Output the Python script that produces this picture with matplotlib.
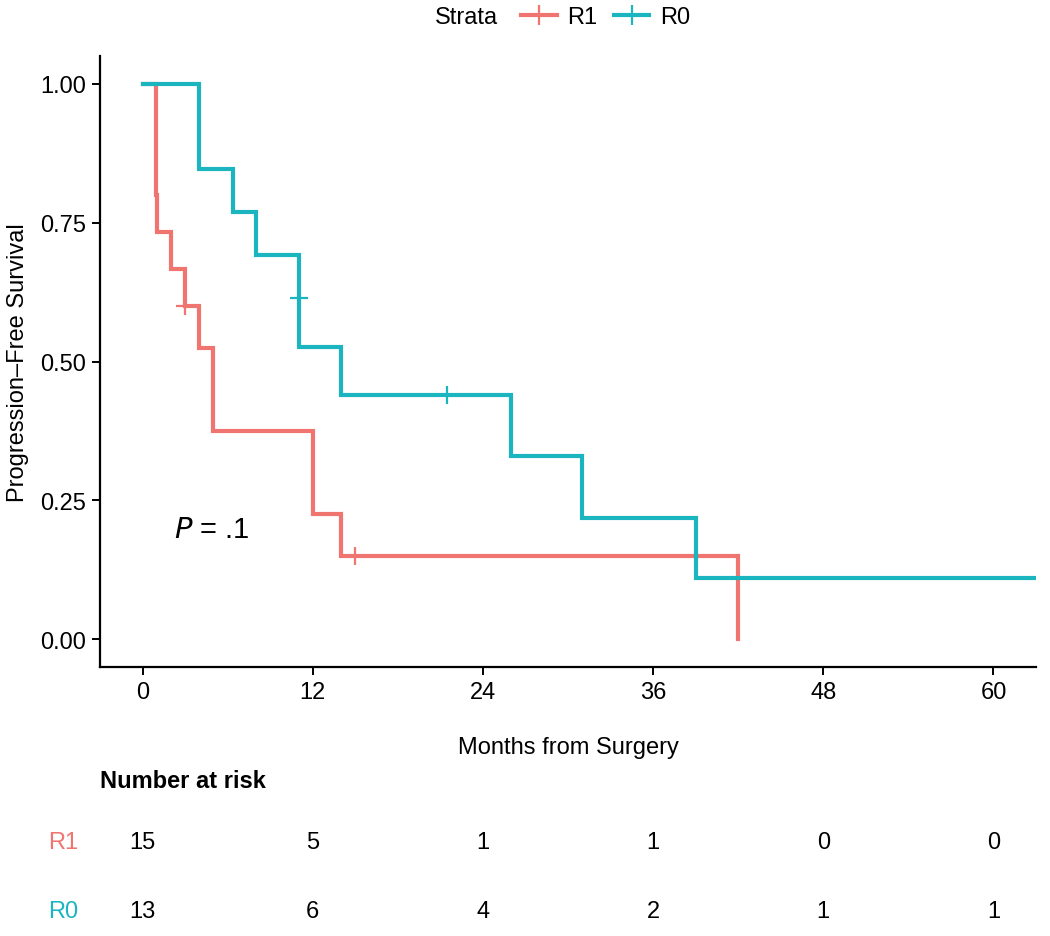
import matplotlib
matplotlib.use("Agg")
import matplotlib.pyplot as plt
from matplotlib.lines import Line2D

plt.rcParams['font.family'] = ['Liberation Sans', 'DejaVu Sans']

RED = "#F07470"
TEAL = "#1BB5C0"
FS = 17

# Kaplan-Meier steps (months, survival)
r1_times = [0, 0.93, 1.0, 2.0, 3.0, 4.0, 5.0, 12.0, 14.0, 42.0]
r1_surv = [1.0, 0.80, 0.733, 0.667, 0.60, 0.525, 0.375, 0.225, 0.15, 0.0]
r1_cens_t = [3.0, 15.0]
r1_cens_s = [0.60, 0.15]

r0_times = [0, 4.0, 6.4, 8.0, 11.0, 11.05, 14.0, 26.0, 31.0, 39.0, 70.0]
r0_surv = [1.0, 0.846, 0.769, 0.692, 0.615, 0.527, 0.439, 0.329, 0.219, 0.110, 0.110]
r0_cens_t = [11.0, 21.5]
r0_cens_s = [0.615, 0.439]

# number at risk table
risk_times = [0, 12, 24, 36, 48, 60]
risk_r1 = [15, 5, 1, 1, 0, 0]
risk_r0 = [13, 6, 4, 2, 1, 1]

fig = plt.figure(figsize=(10.5, 9.37), dpi=100)
ax = fig.add_axes([100/1050, 1-668/937, 936/1050, 611/937])

ax.step(r1_times, r1_surv, where="post", color=RED, lw=3.0, solid_joinstyle="miter")
ax.step(r0_times, r0_surv, where="post", color=TEAL, lw=3.0, solid_joinstyle="miter")
ax.plot(r1_cens_t, r1_cens_s, ls="none", marker="+", ms=13, mew=1.6, color=RED)
ax.plot(r0_cens_t, r0_cens_s, ls="none", marker="+", ms=13, mew=1.6, color=TEAL)

ax.set_xlim(-3, 63)
ax.set_ylim(-0.05, 1.05)
ax.set_xticks(risk_times)
ax.set_yticks([0, 0.25, 0.5, 0.75, 1.0])
ax.set_yticklabels(["0.00", "0.25", "0.50", "0.75", "1.00"])
for s in ["top", "right"]:
    ax.spines[s].set_visible(False)
for s in ["left", "bottom"]:
    ax.spines[s].set_linewidth(1.6)
ax.tick_params(labelsize=FS, length=6, width=1.4, colors="black", pad=4)
ax.set_xlabel("Months from Surgery", fontsize=FS, labelpad=24)
ax.set_ylabel("Progression\u2013Free Survival", fontsize=FS, labelpad=8)

ax.text(2.2, 0.198, r"$P$ = .1", fontsize=21, va="center", ha="left")

# legend on top
fig.text(435/1050, 1-18/937, "Strata", fontsize=FS, va="center", ha="left")
handles = [Line2D([], [], color=RED, lw=3, marker="+", ms=14, mew=1.6),
           Line2D([], [], color=TEAL, lw=3, marker="+", ms=14, mew=1.6)]
fig.legend(handles, ["R1", "R0"], ncol=2, frameon=False, fontsize=FS,
           loc="center left", bbox_to_anchor=(500/1050, 1-18/937),
           handlelength=1.5, columnspacing=0.7, handletextpad=0.45)

# risk table
tab = fig.add_axes([100/1050, 0, 936/1050, 180/937])
tab.set_xlim(-3, 63)
tab.set_ylim(0, 180)
tab.axis("off")
tab.text(-3, 155, "Number at risk", fontsize=FS, fontweight="bold", va="center", ha="left")
for t, n in zip(risk_times, risk_r1):
    tab.text(t, 94, str(n), fontsize=FS, va="center", ha="center")
for t, n in zip(risk_times, risk_r0):
    tab.text(t, 25, str(n), fontsize=FS, va="center", ha="center")
tab.text(-4.5, 94, "R1", fontsize=FS, color=RED, va="center", ha="right")
tab.text(-4.5, 25, "R0", fontsize=FS, color=TEAL, va="center", ha="right")

fig.savefig("out.png", dpi=100)
